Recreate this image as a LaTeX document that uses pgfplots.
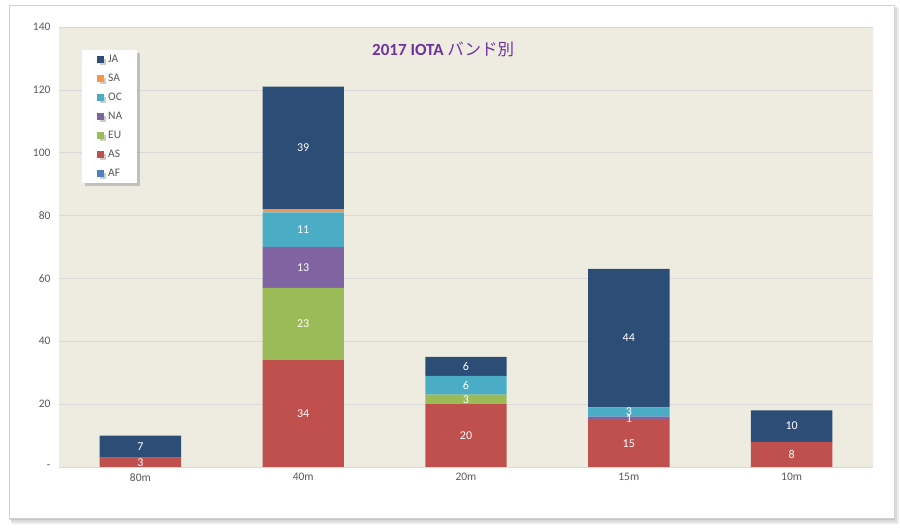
\documentclass[border=0pt]{standalone}
\usepackage{pgfplots}
\usepackage{pgfplotstable}
\pgfplotsset{compat=1.18}
\usepackage{fontspec}
\setmainfont{Carlito}
\newfontfamily\cjk{Noto Sans CJK JP}
\usetikzlibrary{shadows}
\definecolor{cJA}{HTML}{2C4D75}
\definecolor{cSA}{HTML}{F79646}
\definecolor{cOC}{HTML}{4BACC6}
\definecolor{cNA}{HTML}{8064A2}
\definecolor{cEU}{HTML}{9BBB59}
\definecolor{cAS}{HTML}{C0504D}
\definecolor{cAF}{HTML}{4F81BD}
\definecolor{plotbg}{HTML}{EEECE1}
\definecolor{gridc}{HTML}{D9D9D9}
\definecolor{tickc}{HTML}{595959}
\definecolor{titlec}{HTML}{7030A0}
\pgfplotstableread{
x AF AS EU NA OC SA JA
0 0 3 0 0 0 0 7
1 0 34 23 13 11 1 39
2 0 20 3 0 6 0 6
3 0 15 0 1 3 0 44
4 0 8 0 0 0 0 10
}\bands
\begin{document}
\begin{tikzpicture}[x=1pt,y=1pt]
\fill[white] (0,0) rectangle (900,530);
\fill[black!8] (12,6) rectangle (899,522);
\fill[black!14] (11,8) rectangle (897,523);
\fill[black!22] (10,10) rectangle (895,524);
\fill[white] (9,12) rectangle (894,525);
\draw[black!18, line width=0.6pt] (9,12) rectangle (894,525);
\begin{axis}[
  at={(59pt,63pt)}, anchor=south west,
  scale only axis, width=814pt, height=440pt,
  ybar stacked, bar width=0.5,
  xmin=-0.5, xmax=4.5, ymin=0, ymax=140,
  xtick={0,1,2,3,4}, xticklabels={80m,40m,20m,15m,10m},
  ytick={0,20,...,140}, yticklabels={-,20,40,60,80,100,120,140},
  major tick length=0pt,
  /pgf/number format/assume math mode=true,
  axis background/.style={fill=plotbg},
  axis x line*=bottom, axis y line*=left,
  x axis line style={draw=gridc, line width=0.8pt, -},
  y axis line style={draw=none},
  ymajorgrids, grid style={draw=gridc, line width=0.6pt},
  tick label style={font=\fontsize{11.5}{13}\selectfont, text=tickc},
  yticklabel style={xshift=-5pt},
  xticklabel style={yshift=-3pt},
  every node near coord/.append style={anchor=center, text=white, font=\fontsize{12}{14}\selectfont},
  nodes near coords={\pgfmathfloatifflags{\pgfplotspointmeta}{0}{}{\pgfmathprintnumber{\pgfplotspointmeta}}},
  reverse legend,
  legend image code/.code={\draw[#1,draw=none] (0pt,-3pt) rectangle (6.5pt,3.5pt); \path (-1pt,0pt) (10pt,0pt);},
  legend cell align=left,
  legend style={at={(0.0283,0.948)}, anchor=north west, draw=none, fill=white,
    drop shadow={shadow xshift=2.5pt, shadow yshift=-2.5pt, opacity=0.4},
    font=\fontsize{11.5}{13}\selectfont, text=tickc,
    inner xsep=14pt, inner ysep=5pt, row sep=10pt,
    nodes={inner ysep=0pt, inner xsep=1pt, text height=7pt, text depth=2pt}},
]
\addplot+[fill=cAF, draw=none, nodes near coords={}] table[x=x,y=AF,meta=AF]{\bands};
\addplot+[fill=cAS, draw=none, point meta=explicit] table[x=x,y=AS,meta=AS]{\bands};
\addplot+[fill=cEU, draw=none, point meta=explicit] table[x=x,y=EU,meta=EU]{\bands};
\addplot+[fill=cNA, draw=none, point meta=explicit] table[x=x,y=NA,meta=NA]{\bands};
\addplot+[fill=cOC, draw=none, point meta=explicit] table[x=x,y=OC,meta=OC]{\bands};
\addplot+[fill=cSA, draw=none, nodes near coords={}] table[x=x,y=SA,meta=SA]{\bands};
\addplot+[fill=cJA, draw=none, point meta=explicit] table[x=x,y=JA,meta=JA]{\bands};
\legend{AF,AS,EU,NA,OC,SA,JA}
\node[text=titlec, anchor=center] at (axis description cs:0.472,0.948)
  {\fontsize{17}{20}\selectfont\bfseries 2017 IOTA {\cjk\mdseries\fontsize{16.5}{20}\selectfont バンド別}};
\end{axis}
\end{tikzpicture}
\end{document}
